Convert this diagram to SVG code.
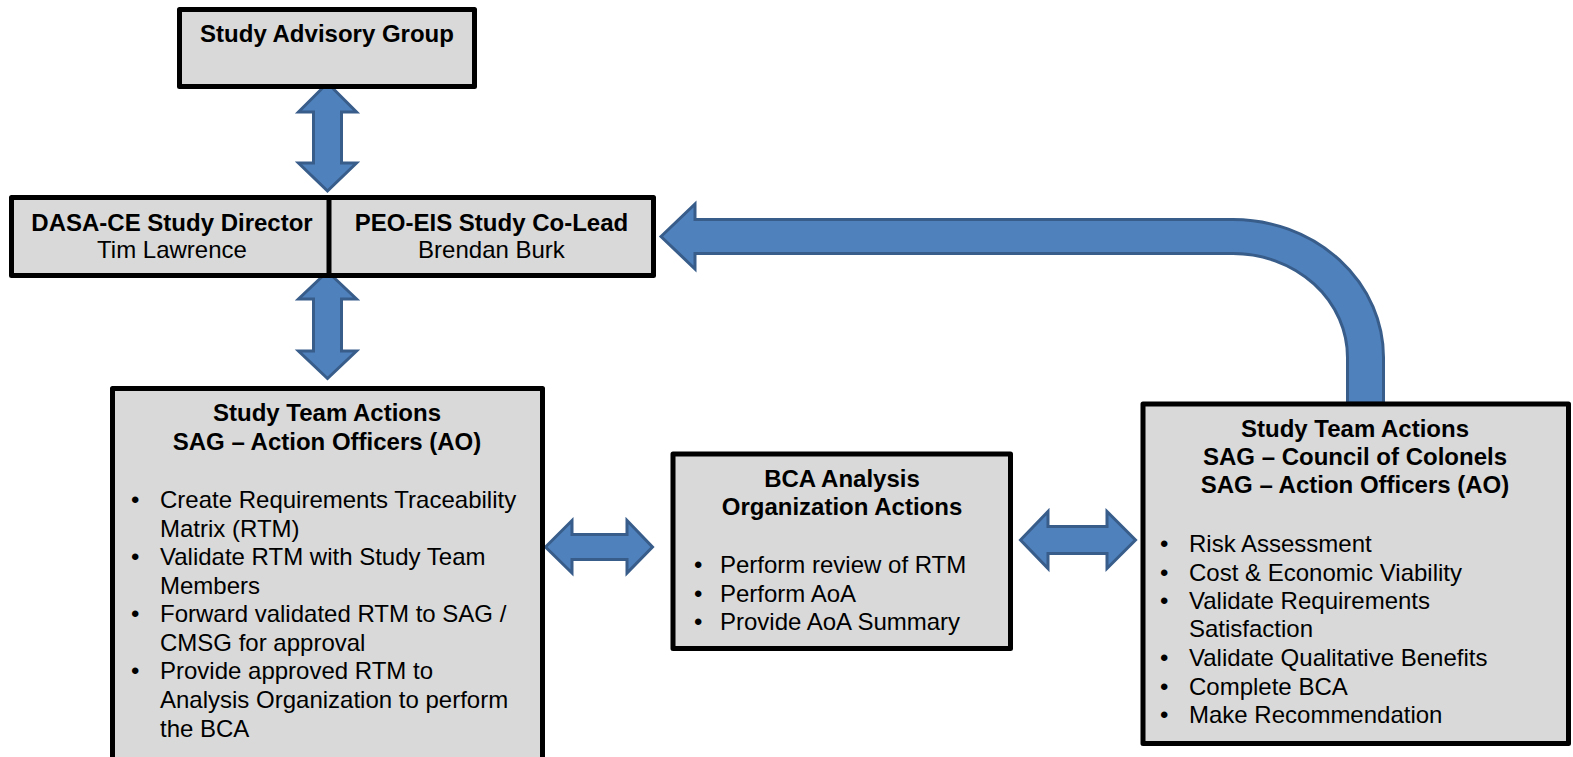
<svg xmlns="http://www.w3.org/2000/svg" width="1573" height="757" viewBox="0 0 1573 757">
<style>
.box{fill:#d9d9d9;stroke:#000;stroke-width:5;stroke-linejoin:round}
.arr{fill:#4f81bd;stroke:#385d8a;stroke-width:3;stroke-linejoin:miter}
text{font-family:"Liberation Sans",Arial,sans-serif;font-size:24px;fill:#000}
.b{font-weight:bold}
.c{text-anchor:middle}
</style>
<rect x="0" y="0" width="1573" height="757" fill="#fff"/>
<g id="connectors">
<path class="arr" d="M327.5 83 L356.5 112 L341.5 112 L341.5 163 L356.5 163 L327.5 191 L298.5 163 L313.5 163 L313.5 112 L298.5 112 Z"/>
<path class="arr" d="M327.5 271.5 L356.5 299 L341.5 299 L341.5 351 L356.5 351 L327.5 378.5 L298.5 351 L313.5 351 L313.5 299 L298.5 299 Z"/>
<path class="arr" d="M545.5 547 L572 520.5 L572 534.5 L627 534.5 L627 520.5 L652.5 547 L627 573 L627 559.5 L572 559.5 L572 573 Z"/>
<path class="arr" d="M1020.5 540 L1048 511.5 L1048 526.5 L1107 526.5 L1107 511.5 L1135.5 540 L1107 568.5 L1107 553.5 L1048 553.5 L1048 568.5 Z"/>
<path class="arr" d="M661 236.5 L695 204 L695 219.5 L1233 219.5 A150.5 138 0 0 1 1383.5 357.5 L1383.5 403 L1347.5 403 L1347.5 357.5 A114.5 104 0 0 0 1233 253.5 L695 253.5 L695 269 Z"/>
</g>
<g id="sag">
<rect class="box" x="179.5" y="9.5" width="295" height="77"/>
<text class="b c" x="327" y="42">Study Advisory Group</text>
</g>
<g id="directors">
<rect class="box" x="11.5" y="197.5" width="642" height="78"/>
<line x1="329" y1="197" x2="329" y2="276" stroke="#000" stroke-width="5"/>
<text class="b c" x="172" y="231">DASA-CE Study Director</text>
<text class="c" x="172" y="258">Tim Lawrence</text>
<text class="b c" x="491.5" y="231">PEO-EIS Study Co-Lead</text>
<text class="c" x="491.5" y="258">Brendan Burk</text>
</g>
<g id="ao">
<rect class="box" x="112.5" y="388.5" width="430" height="390"/>
<text class="b c" x="327" y="421">Study Team Actions</text>
<text class="b c" x="327" y="450">SAG – Action Officers (AO)</text>
<text x="131" y="508">•</text><text x="160" y="508">Create Requirements Traceability</text>
<text x="160" y="537">Matrix (RTM)</text>
<text x="131" y="565">•</text><text x="160" y="565">Validate RTM with Study Team</text>
<text x="160" y="594">Members</text>
<text x="131" y="622">•</text><text x="160" y="622">Forward validated RTM to SAG /</text>
<text x="160" y="651">CMSG for approval</text>
<text x="131" y="679">•</text><text x="160" y="679">Provide approved RTM to</text>
<text x="160" y="708">Analysis Organization to perform</text>
<text x="160" y="737">the BCA</text>
</g>
<g id="bca">
<rect class="box" x="673" y="454" width="337.5" height="194.5"/>
<text class="b c" x="842" y="487">BCA Analysis</text>
<text class="b c" x="842" y="515">Organization Actions</text>
<text x="694" y="573">•</text><text x="720" y="573">Perform review of RTM</text>
<text x="694" y="602">•</text><text x="720" y="602">Perform AoA</text>
<text x="694" y="630">•</text><text x="720" y="630">Provide AoA Summary</text>
</g>
<g id="coc">
<rect class="box" x="1143" y="404" width="425.5" height="339.5"/>
<text class="b c" x="1355" y="437">Study Team Actions</text>
<text class="b c" x="1355" y="465">SAG – Council of Colonels</text>
<text class="b c" x="1355" y="493">SAG – Action Officers (AO)</text>
<text x="1160" y="552">•</text><text x="1189" y="552">Risk Assessment</text>
<text x="1160" y="581">•</text><text x="1189" y="581">Cost &amp; Economic Viability</text>
<text x="1160" y="609">•</text><text x="1189" y="609">Validate Requirements</text>
<text x="1189" y="637">Satisfaction</text>
<text x="1160" y="666">•</text><text x="1189" y="666">Validate Qualitative Benefits</text>
<text x="1160" y="695">•</text><text x="1189" y="695">Complete BCA</text>
<text x="1160" y="723">•</text><text x="1189" y="723">Make Recommendation</text>
</g>
</svg>
